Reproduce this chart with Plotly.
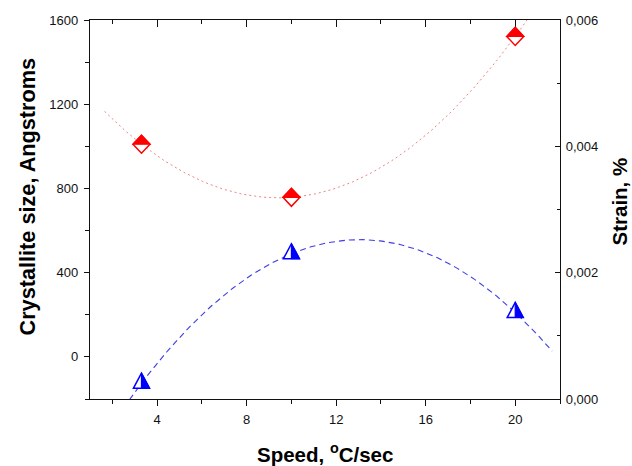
import numpy as np
import plotly.graph_objects as go

# Cooling speed (deg C / sec)
speed = [3.3, 10.0, 20.0]
# Crystallite size, Angstroms (left axis)
crystallite_size = [1010, 758, 1522]
# Strain, % (right axis)
strain = [0.00025, 0.0023, 0.00137]

# Ranges over which the quadratic fits are drawn
size_fit_span = [1.65, 21.0]
strain_fit_span = [2.5, 21.65]

x_ticks = [4, 8, 12, 16, 20]
size_ticks = [0, 400, 800, 1200, 1600]
strain_ticks = [0.0, 0.002, 0.004, 0.006]

RED = "#ff0000"
BLUE = "#0000ff"
FONT = "Liberation Sans, Arial, Helvetica, sans-serif"

# second-order polynomial fits
size_coef = np.polyfit(speed, crystallite_size, 2)
strain_coef = np.polyfit(speed, strain, 2)
xs_size = np.linspace(size_fit_span[0], size_fit_span[1], 200)
xs_strain = np.linspace(strain_fit_span[0], strain_fit_span[1], 200)

fig = go.Figure()

fig.add_trace(go.Scatter(
    x=xs_size, y=np.polyval(size_coef, xs_size), mode="lines",
    line=dict(color="rgba(228,80,80,0.7)", width=1, dash="2px,3px"),
    hoverinfo="skip", showlegend=False))
fig.add_trace(go.Scatter(
    x=xs_strain, y=np.polyval(strain_coef, xs_strain), mode="lines", yaxis="y2",
    line=dict(color="rgba(40,40,230,0.9)", width=1.1, dash="6px,4px"),
    hoverinfo="skip", showlegend=False))

# hover targets for the measured points (glyphs are drawn as shapes below)
fig.add_trace(go.Scatter(
    x=speed, y=crystallite_size, mode="markers", xaxis="x2",
    marker=dict(size=16, color=RED, opacity=0), name="Crystallite size",
    showlegend=False))
fig.add_trace(go.Scatter(
    x=speed, y=strain, mode="markers", yaxis="y2",
    marker=dict(size=16, color=BLUE, opacity=0), name="Strain",
    showlegend=False))

# half-filled glyphs, sized in pixels and anchored at each data point
shapes = []
for xv, yv in zip(speed, crystallite_size):
    common = dict(type="path", xref="x", yref="y", xsizemode="pixel", ysizemode="pixel",
                  xanchor=xv, yanchor=yv, layer="above")
    shapes.append(dict(common, path="M -8.5 0 L 0 9 L 8.5 0 L 0 -9 Z",
                       fillcolor="white", line=dict(color=RED, width=1.5)))
    shapes.append(dict(common, path="M -8.5 0 L 0 9 L 8.5 0 Z",
                       fillcolor=RED, line=dict(color=RED, width=1.2)))
for xv, yv in zip(speed, strain):
    common = dict(type="path", xref="x", yref="y2", xsizemode="pixel", ysizemode="pixel",
                  xanchor=xv, yanchor=yv, layer="above")
    shapes.append(dict(common, path="M -8 -5 L 0 10 L 8 -5 Z",
                       fillcolor="white", line=dict(color=BLUE, width=1.5)))
    shapes.append(dict(common, path="M 0 -5 L 0 10 L 8 -5 Z",
                       fillcolor=BLUE, line=dict(color=BLUE, width=1.2)))

axis_common = dict(showgrid=False, zeroline=False, showline=True, linecolor="#111",
                   linewidth=1.3, tickcolor="#111", tickwidth=1.2,
                   tickfont=dict(family=FONT, size=13, color="#111"))

fig.update_layout(
    width=632, height=466,
    margin=dict(l=90, r=72, t=20, b=67),
    paper_bgcolor="white", plot_bgcolor="white",
    separators=",.",
    shapes=shapes,
    xaxis=dict(axis_common, range=[1, 22], tickvals=x_ticks, ticks="outside", ticklen=6,
               ticklabelstandoff=2,
               minor=dict(dtick=2, tick0=0, ticks="outside", ticklen=4, tickcolor="#111")),
    xaxis2=dict(axis_common, overlaying="x", matches="x", side="top", range=[1, 22],
                tickvals=x_ticks, ticks="inside", ticklen=7, showticklabels=False,
                minor=dict(dtick=2, tick0=0, ticks="inside", ticklen=4, tickcolor="#111")),
    yaxis=dict(axis_common, range=[-200, 1600], tickvals=size_ticks, ticks="outside",
               ticklen=5, ticklabelstandoff=3,
               minor=dict(dtick=200, tick0=0, ticks="outside", ticklen=4, tickcolor="#111")),
    yaxis2=dict(axis_common, overlaying="y", side="right", range=[0, 0.006],
                tickvals=strain_ticks, tickformat=".3f", ticks="inside", ticklen=5,
                ticklabelstandoff=2,
                minor=dict(dtick=0.001, tick0=0, ticks="inside", ticklen=3, tickcolor="#111")),
    annotations=[
        dict(text="<b>Crystallite size, Angstroms</b>", textangle=-90, showarrow=False,
             xref="paper", yref="paper", x=(27 - 90) / 470, y=(399 - 196.5) / 379,
             xanchor="center", yanchor="middle",
             font=dict(family=FONT, size=21.7, color="black")),
        dict(text="<b>Strain, %</b>", textangle=-90, showarrow=False,
             xref="paper", yref="paper", x=(619 - 90) / 470, y=(399 - 201.5) / 379,
             xanchor="center", yanchor="middle",
             font=dict(family=FONT, size=20.5, color="black")),
        dict(text="<b>Speed, <sup>o</sup>C/sec</b>", showarrow=False,
             xref="paper", yref="paper", x=0.501, y=(399 - 453) / 379,
             xanchor="center", yanchor="middle",
             font=dict(family=FONT, size=20.5, color="black")),
    ],
)

fig.write_html("out.html")
